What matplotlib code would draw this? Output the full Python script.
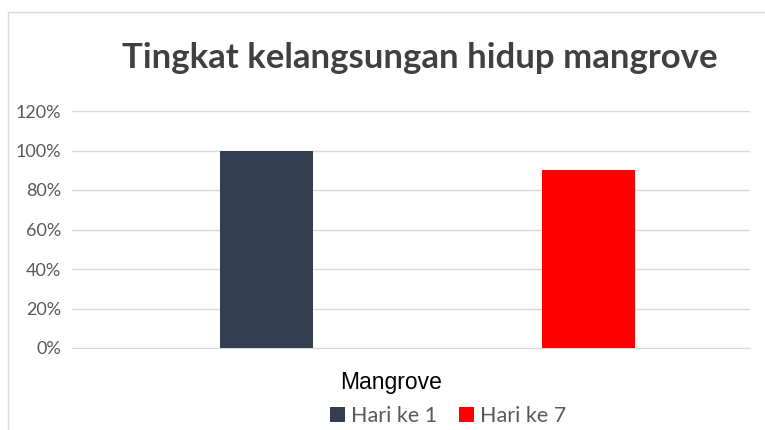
import matplotlib
matplotlib.use("Agg")
import matplotlib.pyplot as plt
from matplotlib.patches import Rectangle
from matplotlib.ticker import FuncFormatter

series = ["Hari ke 1", "Hari ke 7"]
values = [1.00, 0.90]
colors = ["#333F50", "#FF0000"]
category = "Mangrove"
yticks = [0, 0.2, 0.4, 0.6, 0.8, 1.0, 1.2]

W, H = 765, 430
fig = plt.figure(figsize=(W / 100, H / 100), dpi=100)
fig.patch.set_facecolor("white")

# outer chart border (cropped on right/bottom in the reference)
fig.add_artist(Rectangle((8 / W, -0.1), 1.2, 1 - 12 / H + 0.1, transform=fig.transFigure,
                         fill=False, edgecolor="#D9D9D9", linewidth=1.0))

ax = fig.add_axes([72 / W, 1 - 348 / H, (750 - 72) / W, (348 - 111) / H])
ax.set_xlim(0, 1)
ax.set_ylim(0, 1.2)

offsets = [-0.213, 0.262]
width = 0.138
for off, v, c, lab in zip(offsets, values, colors, series):
    ax.bar(0.5 + off, v, width=width, color=c, label=lab, zorder=3)

ax.set_yticks(yticks)
ax.yaxis.set_major_formatter(FuncFormatter(lambda v, p: f"{v * 100:.0f}%"))
ax.grid(axis="y", color="#D9D9D9", linewidth=1.0, zorder=0)
ax.set_xticks([])
for s in ["top", "right", "left"]:
    ax.spines[s].set_visible(False)
ax.spines["bottom"].set_color("#D9D9D9")
ax.tick_params(axis="y", length=0, pad=8, labelsize=13, labelcolor="#595959")
for t in ax.get_yticklabels():
    t.set_family("Lato")

fig.text(420 / W, 1 - 58 / H, "Tingkat kelangsungan hidup mangrove", ha="center", va="center",
         fontsize=25, fontweight="bold", color="#404040", family="Lato")
fig.text(391 / W, 1 - 383 / H, category, ha="center", va="center",
         fontsize=16.5, color="black", family="Liberation Sans")

leg = fig.legend(loc="center", bbox_to_anchor=(448 / W, 1 - 416 / H), ncol=2, frameon=False,
                 handlelength=0.7, handleheight=0.7, handletextpad=0.3, columnspacing=1.0,
                 prop={"family": "Lato", "size": 15.5})
for t in leg.get_texts():
    t.set_color("#595959")

fig.savefig("out.png", dpi=100)
